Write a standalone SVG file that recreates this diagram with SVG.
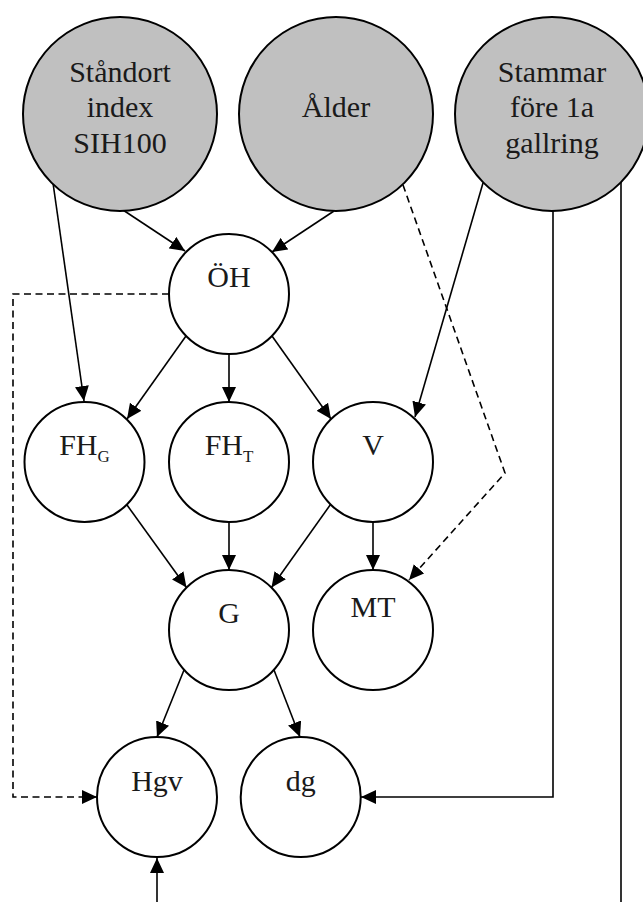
<svg xmlns="http://www.w3.org/2000/svg" width="643" height="902" viewBox="0 0 643 902">
<style>
.top{fill:#c0c0c0;stroke:#000;stroke-width:2}
.nd{fill:#fff;stroke:#000;stroke-width:2}
text{font-family:"Liberation Serif","Times New Roman",serif;font-size:30px;fill:#1a1a1a;text-anchor:middle}
.sub{font-size:17px}
.e{fill:none;stroke:#000;stroke-width:1.6}
.d{stroke-dasharray:7,4.5}
</style>
<defs>
<marker id="ah" viewBox="0 0 15 14" refX="15" refY="7" markerWidth="15" markerHeight="14" markerUnits="userSpaceOnUse" orient="auto">
<path d="M0,0 L15,7 L0,14 z" fill="#000"/>
</marker>
</defs>
<rect width="643" height="902" fill="#fff"/>
<g id="connectors">
<path class="e" d="M123,210 L185,251" marker-end="url(#ah)"/>
<path class="e" d="M334,211 L272,252" marker-end="url(#ah)"/>
<path class="e" d="M53,183 L84,401" marker-end="url(#ah)"/>
<path class="e" d="M186,336 L127,419" marker-end="url(#ah)"/>
<path class="e" d="M229,354 L229,402" marker-end="url(#ah)"/>
<path class="e" d="M272,336 L331,419" marker-end="url(#ah)"/>
<path class="e" d="M483,183 L415,417" marker-end="url(#ah)"/>
<path class="e" d="M127,505 L186.5,587.5" marker-end="url(#ah)"/>
<path class="e" d="M229,522 L229,570" marker-end="url(#ah)"/>
<path class="e" d="M330.5,504.5 L271.5,587.5" marker-end="url(#ah)"/>
<path class="e" d="M373,522 L373,570" marker-end="url(#ah)"/>
<path class="e d" d="M403,185 L505,473 L409,580" marker-end="url(#ah)"/>
<path class="e" d="M184,670 L157,737" marker-end="url(#ah)"/>
<path class="e" d="M274,670 L300,737" marker-end="url(#ah)"/>
<path class="e d" d="M169,294 H13 V797 H97" marker-end="url(#ah)"/>
<path class="e" d="M553,211 V797 H361" marker-end="url(#ah)"/>
<path class="e" d="M621,182 V902"/>
<path class="e" d="M157,902 V858" marker-end="url(#ah)"/>
</g>
<g id="standort">
<circle class="top" cx="120" cy="114" r="97"/>
<text x="120" y="82">Ståndort</text>
<text x="120" y="117">index</text>
<text x="120" y="153">SIH100</text>
</g>
<g id="alder">
<circle class="top" cx="336" cy="114" r="97"/>
<text x="336" y="117">Ålder</text>
</g>
<g id="stammar">
<circle class="top" cx="552" cy="114" r="97"/>
<text x="552" y="82">Stammar</text>
<text x="552" y="117">före 1a</text>
<text x="552" y="153">gallring</text>
</g>
<g id="OH">
<circle class="nd" cx="229" cy="294" r="60"/>
<text x="229" y="287">ÖH</text>
</g>
<g id="FHG">
<circle class="nd" cx="84.5" cy="462" r="60"/>
<text x="84.5" y="455">FH<tspan class="sub" dy="7">G</tspan></text>
</g>
<g id="FHT">
<circle class="nd" cx="229" cy="462" r="60"/>
<text x="229" y="455">FH<tspan class="sub" dy="7">T</tspan></text>
</g>
<g id="V">
<circle class="nd" cx="373" cy="462" r="60"/>
<text x="373" y="455">V</text>
</g>
<g id="G">
<circle class="nd" cx="229" cy="630" r="60"/>
<text x="229" y="623">G</text>
</g>
<g id="MT">
<circle class="nd" cx="373" cy="630" r="60"/>
<text x="373" y="617">MT</text>
</g>
<g id="Hgv">
<circle class="nd" cx="157" cy="797" r="60"/>
<text x="157" y="791">Hgv</text>
</g>
<g id="dg">
<circle class="nd" cx="300.7" cy="797" r="60"/>
<text x="300.7" y="791">dg</text>
</g>
</svg>
